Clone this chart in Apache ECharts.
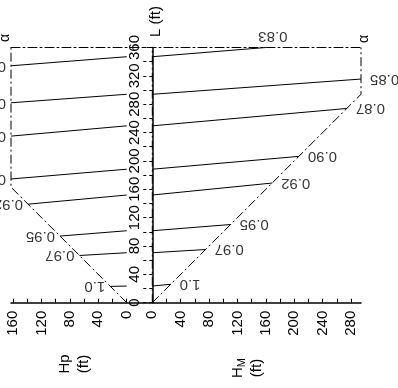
<!DOCTYPE html>
<html><head><meta charset="utf-8">
<script src="https://cdn.jsdelivr.net/npm/echarts@6/dist/echarts.min.js"></script>
<style>html,body{margin:0;padding:0;background:#fff}#c{width:398px;height:388px}</style>
</head><body><div id="c"></div>
<script>
// ---- data ----
const alphaLabels = ['0.83', '0.85', '0.87', '0.90', '0.92', '0.95', '0.97', '1.0'];
const lAtAxis   = [347, 294, 249.5, 188.3, 151.9, 101.5, 70.5, 23.5];   // L (ft) where each alpha line meets H = 0
const hpEnd     = [163, 163, 163, 163, 139, 94, 66.6, 23];              // left panel: Hp at outer end
const lLeftEnd  = [334.2, 282, 235, 174.5, 139, 94, 66.6, 23];          // left panel: L at outer end
const hmEnd     = [160, 294, 274, 206.4, 168.8, 110.3, 75, 26];         // right panel: Hm at outer end
const lRightEnd = [360, 315.5, 274, 206.4, 168.8, 110.3, 75, 26];       // right panel: L at outer end
const hpBoundary = [[0, 0], [163, 163], [163, 360]];
const hmBoundary = [[0, 0], [294, 294], [294, 360]];
const hmZeroLine = [[0, 0], [0, 360]];
const hpTicks = [0, 20, 40, 60, 80, 100, 120, 140, 160];
const hpTickLabels = [0, 40, 80, 120, 160];
const hmTicks = [0, 20, 40, 60, 80, 100, 120, 140, 160, 180, 200, 220, 240, 260, 280];
const hmTickLabels = [0, 40, 80, 120, 160, 200, 240, 280];
const lTicks = [0, 20, 40, 60, 80, 100, 120, 140, 160, 180, 200, 220, 240, 260, 280, 300, 320, 340, 360];
const lTickLabels = [0, 40, 80, 120, 160, 200, 240, 280, 320, 360];
const hpMax = 163, hmMax = 294, lMax = 360;

// ---- styling ----
const black = '#000';
const font = '"Liberation Sans", Arial, Helvetica, sans-serif';
const dashDot = [9, 3, 2, 3];
const chart = echarts.init(document.getElementById('c'), null, {renderer: 'canvas'});

const series = [];
series.push({type: 'line', xAxisIndex: 0, yAxisIndex: 0, data: hpBoundary, symbol: 'none', clip: false, silent: true,
  lineStyle: {color: black, width: 1, type: dashDot}});
series.push({type: 'line', xAxisIndex: 1, yAxisIndex: 1, data: hmBoundary, symbol: 'none', clip: false, silent: true,
  lineStyle: {color: black, width: 1, type: dashDot}});
series.push({type: 'line', xAxisIndex: 1, yAxisIndex: 1, data: hmZeroLine, symbol: 'none', clip: false, silent: true,
  lineStyle: {color: black, width: 1, type: dashDot}});
alphaLabels.forEach((a, i) => {
  series.push({type: 'line', xAxisIndex: 0, yAxisIndex: 0, symbol: 'none', clip: false, silent: true,
    data: [[0, lAtAxis[i]], [hpEnd[i], lLeftEnd[i]]], lineStyle: {color: black, width: 1}});
  series.push({type: 'line', xAxisIndex: 1, yAxisIndex: 1, symbol: 'none', clip: false, silent: true,
    data: [[0, lAtAxis[i]], [hmEnd[i], lRightEnd[i]]], lineStyle: {color: black, width: 1}});
});
const labelText = {fontSize: 15, color: black, fontFamily: font, formatter: '{b}'};
series.push({type: 'scatter', xAxisIndex: 0, yAxisIndex: 0, symbolSize: 0, clip: false, silent: true,
  itemStyle: {color: 'rgba(0,0,0,0)'},
  label: Object.assign({show: true, position: 'left', rotate: 180, align: 'left', verticalAlign: 'middle', distance: 5}, labelText),
  data: alphaLabels.map((a, i) => ({name: a, value: [hpEnd[i], lLeftEnd[i]]}))});
series.push({type: 'scatter', xAxisIndex: 1, yAxisIndex: 1, symbolSize: 0, clip: false, silent: true,
  itemStyle: {color: 'rgba(0,0,0,0)'},
  label: Object.assign({show: true, position: 'right', rotate: 180, align: 'right', verticalAlign: 'middle', distance: 9}, labelText),
  data: alphaLabels.map((a, i) => {
    const item = {name: a, value: [hmEnd[i], lRightEnd[i]]};
    if (lRightEnd[i] >= lMax) item.label = {position: 'top', align: 'center', verticalAlign: 'top', distance: 6, offset: [-7, -2]};
    return item;
  })});

const tickLabel = {rotate: 90, fontSize: 15, color: black, fontFamily: font};
const option = {
  animation: false,
  backgroundColor: '#fff',
  grid: [
    {left: 11, top: 47.5, width: 115.7, height: 255.2, outerBoundsMode: 'none'},
    {left: 152.3, top: 47.5, width: 208.7, height: 255.2, outerBoundsMode: 'none'},
    {left: 11, top: 47.5, width: 350, height: 255.2, outerBoundsMode: 'none'}
  ],
  xAxis: [
    {gridIndex: 0, type: 'value', inverse: true, min: 0, max: hpMax, position: 'bottom',
      axisLine: {show: false}, splitLine: {show: false},
      axisTick: {show: true, inside: true, length: 4, customValues: hpTicks, lineStyle: {color: black, width: 1}},
      axisLabel: Object.assign({customValues: hpTickLabels, margin: 8}, tickLabel)},
    {gridIndex: 1, type: 'value', min: 0, max: hmMax, position: 'bottom',
      axisLine: {show: false}, splitLine: {show: false},
      axisTick: {show: true, inside: true, length: 4, customValues: hmTicks, lineStyle: {color: black, width: 1}},
      axisLabel: Object.assign({customValues: hmTickLabels, margin: 8}, tickLabel)},
    {gridIndex: 2, type: 'value', min: 0, max: 1, position: 'bottom',
      axisLine: {show: true, lineStyle: {color: black, width: 1.5}}, axisTick: {show: false}, axisLabel: {show: false}, splitLine: {show: false}},
    {gridIndex: 2, type: 'value', min: 0, max: 1, position: 'top',
      axisLine: {show: true, lineStyle: {color: black, width: 1, type: dashDot}}, axisTick: {show: false}, axisLabel: {show: false}, splitLine: {show: false}}
  ],
  yAxis: [
    {gridIndex: 0, type: 'value', min: 0, max: lMax, show: false},
    {gridIndex: 1, type: 'value', min: 0, max: lMax, position: 'left', offset: 9,
      axisLine: {show: true, lineStyle: {color: black, width: 1.5}}, splitLine: {show: false},
      axisTick: {show: true, length: 3, customValues: lTicks, lineStyle: {color: black, width: 1}},
      axisLabel: Object.assign({customValues: lTickLabels, margin: 1}, tickLabel)},
    {gridIndex: 1, type: 'value', min: 0, max: lMax, position: 'left', offset: 9,
      axisLine: {show: false}, splitLine: {show: false}, axisLabel: {show: false},
      axisTick: {show: true, inside: true, length: 3, customValues: lTicks, lineStyle: {color: black, width: 1}}},
    {gridIndex: 2, type: 'value', min: 0, max: 1, show: false}
  ],
  graphic: [
    {type: 'text', x: 74.5, y: 364, rotation: Math.PI / 2, silent: true,
      style: {text: 'Hp\n(ft)', font: '15px ' + font, fill: black, align: 'center', verticalAlign: 'middle', lineHeight: 19}},
    {type: 'text', x: 247.5, y: 368, rotation: Math.PI / 2, silent: true,
      style: {text: 'H{s|M}\n(ft)', font: '15px ' + font, fill: black, align: 'center', verticalAlign: 'middle', lineHeight: 19,
        rich: {s: {fontSize: 11, fontFamily: font, fill: black, verticalAlign: 'bottom'}}}},
    {type: 'text', x: 156, y: 21.5, rotation: Math.PI / 2, silent: true,
      style: {text: 'L (ft)', font: '15px ' + font, fill: black, align: 'center', verticalAlign: 'middle'}},
    {type: 'text', x: 5.5, y: 38, rotation: Math.PI / 2, silent: true,
      style: {text: 'α', font: '14px ' + font, fill: black, align: 'center', verticalAlign: 'middle'}},
    {type: 'text', x: 364.5, y: 39, rotation: Math.PI / 2, silent: true,
      style: {text: 'α', font: '14px ' + font, fill: black, align: 'center', verticalAlign: 'middle'}}
  ],
  series: series
};
chart.setOption(option);
</script>
</body></html>
